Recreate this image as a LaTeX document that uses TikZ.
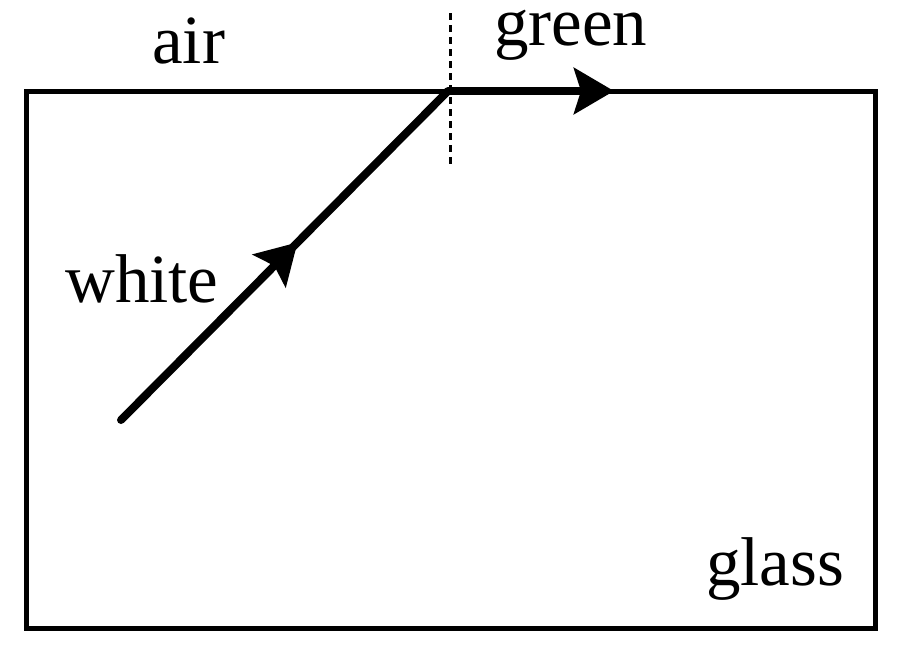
\documentclass[tikz,border=0pt]{standalone}
\usepackage{fontspec}
\setmainfont{Liberation Serif}
\usetikzlibrary{arrows.meta,decorations.markings}
\tikzset{
  frame/.style={line width=5pt},
  ray/.style={line width=8pt, line cap=round},
  normalline/.style={line width=3pt, dash pattern=on 7pt off 5pt},
  lbl/.style={anchor=base west, inner sep=0pt, font=\fontsize{69}{80}\selectfont},
  head/.style={-{Stealth[length=40pt,width=46pt,inset=7pt]}}
}
\begin{document}
\begin{tikzpicture}[x=1pt,y=-1pt]
\useasboundingbox (0,0) rectangle (900,649);
\coordinate (tl) at (26,91);
\coordinate (br) at (875,628);
\draw[frame] (tl) rectangle (br);
\coordinate (s) at (121,420);
\coordinate (h) at (448,91);
\coordinate (e) at (614,91);
\coordinate (d1) at (450,13);
\coordinate (d2) at (450,167);
\draw[normalline] (d1) -- (d2);
\draw[ray, postaction={decorate}, decoration={markings, mark=at position 0.54 with {\arrow{Stealth[length=40pt,width=46pt,inset=7pt]}}}] (s) -- (h);
\draw[ray, line cap=butt, head] (h) -- (e);
\node[lbl] (air) at (152,63) {air};
\node[lbl] (green) at (494,45) {green};
\node[lbl] (white) at (65,302) {white};
\node[lbl] (glass) at (706,585) {glass};
\end{tikzpicture}
\end{document}
